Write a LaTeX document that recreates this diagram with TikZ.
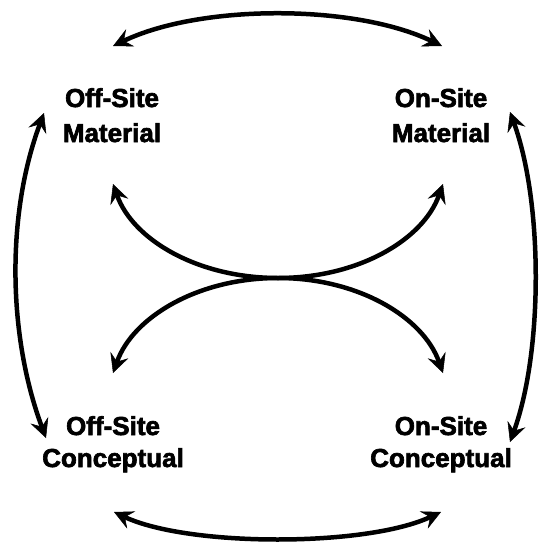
\documentclass[tikz,border=0pt]{standalone}
\usepackage{fontspec}
\setmainfont{Liberation Sans}[BoldFeatures={FakeBold=2.5}]
\usetikzlibrary{arrows.meta}
\begin{document}
\begin{tikzpicture}[x=1pt,y=-1pt,
  tip/.tip={Stealth[length=19pt,width=19pt,inset=7pt,line width=0.5pt]},
  conn/.style={line width=4.5pt, tip-tip},
  lbltop/.style={anchor=base, inner sep=0pt, font=\fontsize{26}{35}\selectfont\bfseries},
  lblbot/.style={anchor=base, inner sep=0pt, font=\fontsize{26}{32}\selectfont\bfseries}]
\useasboundingbox[fill=white] (0,0) rectangle (539,544);

\node[lbltop] (offmat) at (112,142) {\begin{tabular}[b]{@{}c@{}}Off-Site\\Material\end{tabular}};
\node[lbltop] (onmat) at (441,142) {\begin{tabular}[b]{@{}c@{}}On-Site\\Material\end{tabular}};
\node[lblbot] (offcon) at (113,467) {\begin{tabular}[b]{@{}c@{}}Off-Site\\Conceptual\end{tabular}};
\node[lblbot] (oncon) at (441,467) {\begin{tabular}[b]{@{}c@{}}On-Site\\Conceptual\end{tabular}};

\coordinate (tl) at (113,46);
\coordinate (tr) at (442,46);
\coordinate (bl) at (114,512);
\coordinate (br) at (441,512);
\coordinate (lt) at (44,113);
\coordinate (lb) at (46,438);
\coordinate (rt) at (510,112);
\coordinate (rb) at (510,442);
\coordinate (cul) at (113,184);
\coordinate (cur) at (443,184);
\coordinate (cll) at (113,373);
\coordinate (clr) at (443,373);
\coordinate (c) at (278,278);

\draw[conn] (tl) .. controls +(88,-42) and +(-88,-42) .. (tr);
\draw[conn] (bl) .. controls +(75,35) and +(-75,35) .. (br);
\draw[conn] (lt) .. controls +(-38,102) and +(-38,-102) .. (lb);
\draw[conn] (rt) .. controls +(33,91) and +(33,-91) .. (rb);
\draw[conn] (cul) .. controls +(20,56) and +(-80,0) .. (c) .. controls +(80,0) and +(-20,-56) .. (clr);
\draw[conn] (cur) .. controls +(-20,56) and +(80,0) .. (c) .. controls +(-80,0) and +(20,-56) .. (cll);
\end{tikzpicture}
\end{document}
